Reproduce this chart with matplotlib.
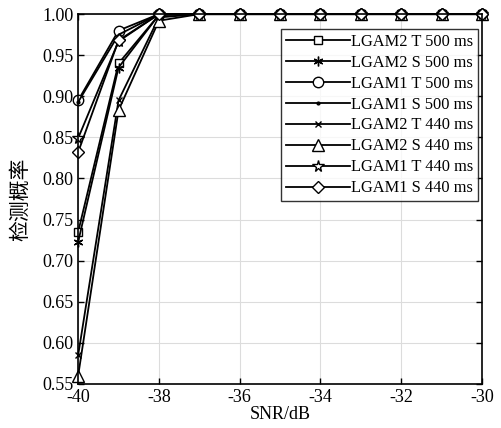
import numpy as np
import matplotlib.pyplot as plt

plt.rcParams['font.family'] = ['Liberation Serif', 'Noto Sans CJK SC']
plt.rcParams['axes.unicode_minus'] = False

snr = [-40, -39, -38, -37, -36, -35, -34, -33, -32, -31, -30]

labels = ['LGAM2 T 500 ms', 'LGAM2 S 500 ms', 'LGAM1 T 500 ms', 'LGAM1 S 500 ms',
          'LGAM2 T 440 ms', 'LGAM2 S 440 ms', 'LGAM1 T 440 ms', 'LGAM1 S 440 ms']
markers = ['s', (6, 2, 0), 'o', '.', 'x', '^', '*', 'D']
sizes = [6, 7, 7.5, 4, 5, 8, 8.5, 6]

pd_lgam2_t_500 = [0.735, 0.940, 0.999, 1, 1, 1, 1, 1, 1, 1, 1]
pd_lgam2_s_500 = [0.723, 0.935, 0.999, 1, 1, 1, 1, 1, 1, 1, 1]
pd_lgam1_t_500 = [0.895, 0.980, 1.000, 1, 1, 1, 1, 1, 1, 1, 1]
pd_lgam1_s_500 = [0.893, 0.975, 1.000, 1, 1, 1, 1, 1, 1, 1, 1]
pd_lgam2_t_440 = [0.585, 0.895, 0.996, 1, 1, 1, 1, 1, 1, 1, 1]
pd_lgam2_s_440 = [0.560, 0.883, 0.992, 1, 1, 1, 1, 1, 1, 1, 1]
pd_lgam1_t_440 = [0.849, 0.967, 1.000, 1, 1, 1, 1, 1, 1, 1, 1]
pd_lgam1_s_440 = [0.832, 0.968, 1.000, 1, 1, 1, 1, 1, 1, 1, 1]

series = [pd_lgam2_t_500, pd_lgam2_s_500, pd_lgam1_t_500, pd_lgam1_s_500,
          pd_lgam2_t_440, pd_lgam2_s_440, pd_lgam1_t_440, pd_lgam1_s_440]

fig = plt.figure(figsize=(5.01, 4.28), dpi=100)
ax = fig.add_axes([0.156, 0.103, 0.806, 0.864])

for y, lab, m, ms in zip(series, labels, markers, sizes):
    filled = m in ('.', 'x', (6, 2, 0))
    ax.plot(snr, y, color='black', lw=1.3, marker=m, ms=ms,
            mfc='black' if filled else 'white', mec='black', mew=1.0,
            label=lab, clip_on=False)

ax.set_xlim(-40, -30)
ax.set_ylim(0.55, 1.0)
ax.set_xticks(np.arange(-40, -29, 2))
ax.set_yticks(np.arange(0.55, 1.001, 0.05))
ax.set_yticklabels([f'{v:.2f}' for v in np.arange(0.55, 1.001, 0.05)])
ax.grid(True, color='#dcdcdc', lw=0.8)
ax.tick_params(direction='in', top=True, right=True, labelsize=13, length=4, width=1)
for sp in ax.spines.values():
    sp.set_linewidth(1.2)
ax.set_xlabel('SNR/dB', fontsize=13, labelpad=0)
ax.set_ylabel('检测概率', fontsize=15, labelpad=8)

leg = ax.legend(loc='upper right', bbox_to_anchor=(0.99, 0.96), fontsize=11.8,
                frameon=True, fancybox=False, edgecolor='black', borderpad=0.3,
                labelspacing=0.3, handlelength=3.9, handletextpad=0.05,
                borderaxespad=0)
leg.get_frame().set_linewidth(1.0)

fig.savefig('out.png', dpi=100)
